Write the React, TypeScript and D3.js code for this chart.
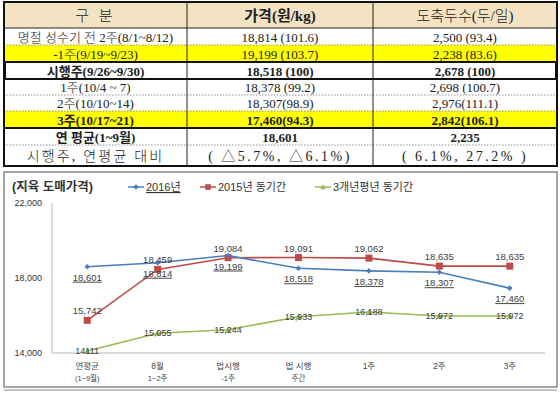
import React from "react";
import * as d3 from "d3";

const tableHeader = ["구  분", "가격(원/kg)", "도축두수(두/일)"];
const tableLabels = [
  "명절 성수기 전 2주(8/1~8/12)",
  "-1주(9/19~9/23)",
  "시행주(9/26~9/30)",
  "1주(10/4 ~ 7)",
  "2주(10/10~14)",
  "3주(10/17~21)",
  "연 평균(1~9월)",
  "시행주, 연평균 대비",
];
const tablePrice = [
  "18,814 (101.6)",
  "19,199 (103.7)",
  "18,518 (100)",
  "18,378 (99.2)",
  "18,307(98.9)",
  "17,460(94.3)",
  "18,601",
  "( △5.7%, △6.1%)",
];
const tableHeads = [
  "2,500 (93.4)",
  "2,238 (83.6)",
  "2,678 (100)",
  "2,698 (100.7)",
  "2,976(111.1)",
  "2,842(106.1)",
  "2,235",
  "( 6.1%, 27.2% )",
];
const rowYellow = [false, true, false, false, false, true, false, false];
const rowBold = [false, false, true, false, false, true, true, false];

const categories = [
  ["연평균", "(1~9월)"],
  ["8월", "1~2주"],
  ["법시행", "-1주"],
  ["법 시행", "주간"],
  ["1주", ""],
  ["2주", ""],
  ["3주", ""],
];
const s2016 = [18601, 18814, 19199, 18518, 18378, 18307, 17460];
const s2015 = [15742, 18459, 19084, 19091, 19062, 18635, 18635];
const s3yr = [14111, 15055, 15244, 15933, 16188, 15972, 15972];
const yTicks = [14000, 18000, 22000];
const seriesNames = ["2016년", "2015년 동기간", "3개년평년 동기간"];

const C_BLUE = "#4A7EBB";
const C_RED = "#BE4B48";
const C_GREEN = "#98B954";

const serif = "'Liberation Serif', 'Noto Sans CJK KR', serif";
const sans = "'Liberation Sans', 'Noto Sans CJK KR', sans-serif";

function fmt(v: number) {
  return d3.format(",")(v);
}

export default function App() {
  const colX = [4, 187, 373, 557];
  const rowTops = [2, 28, 45, 62, 79, 95, 111, 128, 145, 166];

  const x = d3
    .scalePoint<number>()
    .domain(categories.map((_, i) => i))
    .range([52, 545])
    .padding(0.5);
  const y = d3.scaleLinear().domain([14000, 22000]).range([353, 203]);
  const line = d3
    .line<number>()
    .x((_, i) => x(i) as number)
    .y((d) => y(d));

  const tableRows = tableLabels.map((lab, i) => {
    const top = rowTops[i + 1];
    const bot = rowTops[i + 2];
    const last = i === 7;
    const cy = (top + bot) / 2 + 5;
    const fs = last ? 14 : 13;
    const fw = rowBold[i] ? "bold" : 300;
    const ls = last ? 2.2 : 0;
    return (
      <g key={i}>
        {rowYellow[i] && (
          <rect x={colX[0]} y={top} width={colX[3] - colX[0]} height={bot - top} fill="#FFFF00" />
        )}
        <text x={(colX[0] + colX[1]) / 2} y={cy} textAnchor="middle" fontSize={fs} fontWeight={fw} letterSpacing={ls} fill="#222">
          {lab}
        </text>
        <text x={(colX[1] + colX[2]) / 2} y={cy} textAnchor="middle" fontSize={fs} fontWeight={fw} letterSpacing={last ? 2.5 : 0} fill="#222">
          {tablePrice[i]}
        </text>
        <text x={(colX[2] + colX[3]) / 2} y={cy} textAnchor="middle" fontSize={fs} fontWeight={fw} letterSpacing={last ? 2.5 : 0} fill="#222">
          {tableHeads[i]}
        </text>
        {i > 0 && (
          <line x1={colX[0]} x2={colX[3]} y1={top} y2={top} stroke="#777" strokeWidth={0.8} strokeDasharray="1.5,1.5" />
        )}
      </g>
    );
  });

  const legendItems = [
    { x: 128, color: C_BLUE, name: seriesNames[0], shape: "diamond", underline: true },
    { x: 200, color: C_RED, name: seriesNames[1], shape: "square", underline: false },
    { x: 315, color: C_GREEN, name: seriesNames[2], shape: "triangle", underline: false },
  ];

  const marker = (shape: string, cx: number, cy: number, color: string, s: number) => {
    if (shape === "diamond")
      return <path d={`M${cx},${cy - s}L${cx + s},${cy}L${cx},${cy + s}L${cx - s},${cy}Z`} fill={color} />;
    if (shape === "square") return <rect x={cx - s} y={cy - s} width={2 * s} height={2 * s} fill={color} />;
    return <path d={`M${cx},${cy - s}L${cx + s},${cy + s * 0.8}L${cx - s},${cy + s * 0.8}Z`} fill={color} />;
  };

  return (
    <svg
      width={560}
      height={393}
      style={{ position: "absolute", left: 0, top: 0, background: "#fff" }}
      fontFamily={serif}
    >
      {/* Table */}
      <rect x={colX[0]} y={rowTops[0]} width={colX[3] - colX[0]} height={rowTops[1] - rowTops[0]} fill="#F3E3C3" />
      {tableHeader.map((h, i) => (
        <text
          key={i}
          x={(colX[i] + colX[i + 1]) / 2}
          y={21}
          textAnchor="middle"
          fontSize={15}
          fontWeight={i === 1 ? "bold" : 300}
          letterSpacing={i === 0 ? 3 : 0}
          fill="#222"
        >
          {h}
        </text>
      ))}
      {tableRows}
      {[1, 2].map((k) => (
        <line key={k} x1={colX[k]} x2={colX[k]} y1={rowTops[0]} y2={rowTops[9]} stroke="#222" strokeWidth={1} />
      ))}
      <line x1={colX[0]} x2={colX[3]} y1={rowTops[1]} y2={rowTops[1]} stroke="#222" strokeWidth={1} />
      <rect x={colX[0] + 1} y={rowTops[3]} width={colX[3] - colX[0] - 2} height={rowTops[4] - rowTops[3]} fill="none" stroke="#111" strokeWidth={2} />
      <line x1={colX[0]} x2={colX[3]} y1={rowTops[7]} y2={rowTops[7]} stroke="#111" strokeWidth={2} />
      <rect x={colX[0]} y={rowTops[0]} width={colX[3] - colX[0]} height={rowTops[9] - rowTops[0]} fill="none" stroke="#111" strokeWidth={2} />

      {/* Chart panel */}
      <rect x={4} y={172} width={553} height={215} fill="#fff" stroke="#888" strokeWidth={1.5} />
      <line x1={4} x2={557} y1={390} y2={390} stroke="#888" strokeWidth={1} />
      <text x={12} y={191} fontFamily={sans} fontSize={12.5} fontWeight="bold" fill="#333">
        (지육 도매가격)
      </text>
      {legendItems.map((it, i) => (
        <g key={i} fontFamily={sans}>
          <line x1={it.x} x2={it.x + 16} y1={187} y2={187} stroke={it.color} strokeWidth={1.5} />
          {marker(it.shape, it.x + 8, 187, it.color, 2.8)}
          <text x={it.x + 18} y={191} fontSize={11} fill="#333" textDecoration={it.underline ? "underline" : "none"}>
            {it.name}
          </text>
        </g>
      ))}

      {/* axes */}
      <line x1={52} x2={52} y1={203} y2={353} stroke="#BBB" strokeWidth={1} />
      <line x1={52} x2={545} y1={353} y2={353} stroke="#BBB" strokeWidth={1} />
      {yTicks.map((t) => (
        <text key={t} x={42} y={y(t) + 3} textAnchor="end" fontFamily={sans} fontSize={9} fill="#333">
          {fmt(t)}
        </text>
      ))}
      {categories.map((c, i) => (
        <g key={i} fontFamily={sans} fontSize={8.5} fill="#444" textAnchor="middle">
          <text x={x(i)} y={369}>
            {c[0]}
          </text>
          {c[1] && (
            <text x={x(i)} y={381} fontSize={7.5}>
              {c[1]}
            </text>
          )}
        </g>
      ))}

      {/* series lines */}
      <path d={line(s3yr) || ""} fill="none" stroke={C_GREEN} strokeWidth={1.6} />
      <path d={line(s2015) || ""} fill="none" stroke={C_RED} strokeWidth={1.6} />
      <path d={line(s2016) || ""} fill="none" stroke={C_BLUE} strokeWidth={1.6} />
      {s3yr.map((v, i) => (
        <g key={"g" + i}>{marker("triangle", x(i) as number, y(v), C_GREEN, 3)}</g>
      ))}
      {s2015.map((v, i) => (
        <g key={"r" + i}>{marker("square", x(i) as number, y(v), C_RED, 3.5)}</g>
      ))}
      {s2016.map((v, i) => (
        <g key={"b" + i}>{marker("diamond", x(i) as number, y(v), C_BLUE, 2.8)}</g>
      ))}

      {/* labels */}
      {s2015.map((v, i) => (
        <text key={"rl" + i} x={x(i)} y={y(v) - 6} textAnchor="middle" fontFamily={sans} fontSize={9.5} fill="#404040">
          {fmt(v)}
        </text>
      ))}
      {s2016.map((v, i) => (
        <text key={"bl" + i} x={x(i)} y={y(v) + 14} textAnchor="middle" fontFamily={sans} fontSize={9.5} fill="#404040" textDecoration="underline">
          {fmt(v)}
        </text>
      ))}
      {s3yr.map((v, i) => (
        <text key={"gl" + i} x={x(i)} y={y(v) + 3} textAnchor="middle" fontFamily={sans} fontSize={9} fill="#404040">
          {i === 0 ? String(v) : fmt(v)}
        </text>
      ))}
    </svg>
  );
}
